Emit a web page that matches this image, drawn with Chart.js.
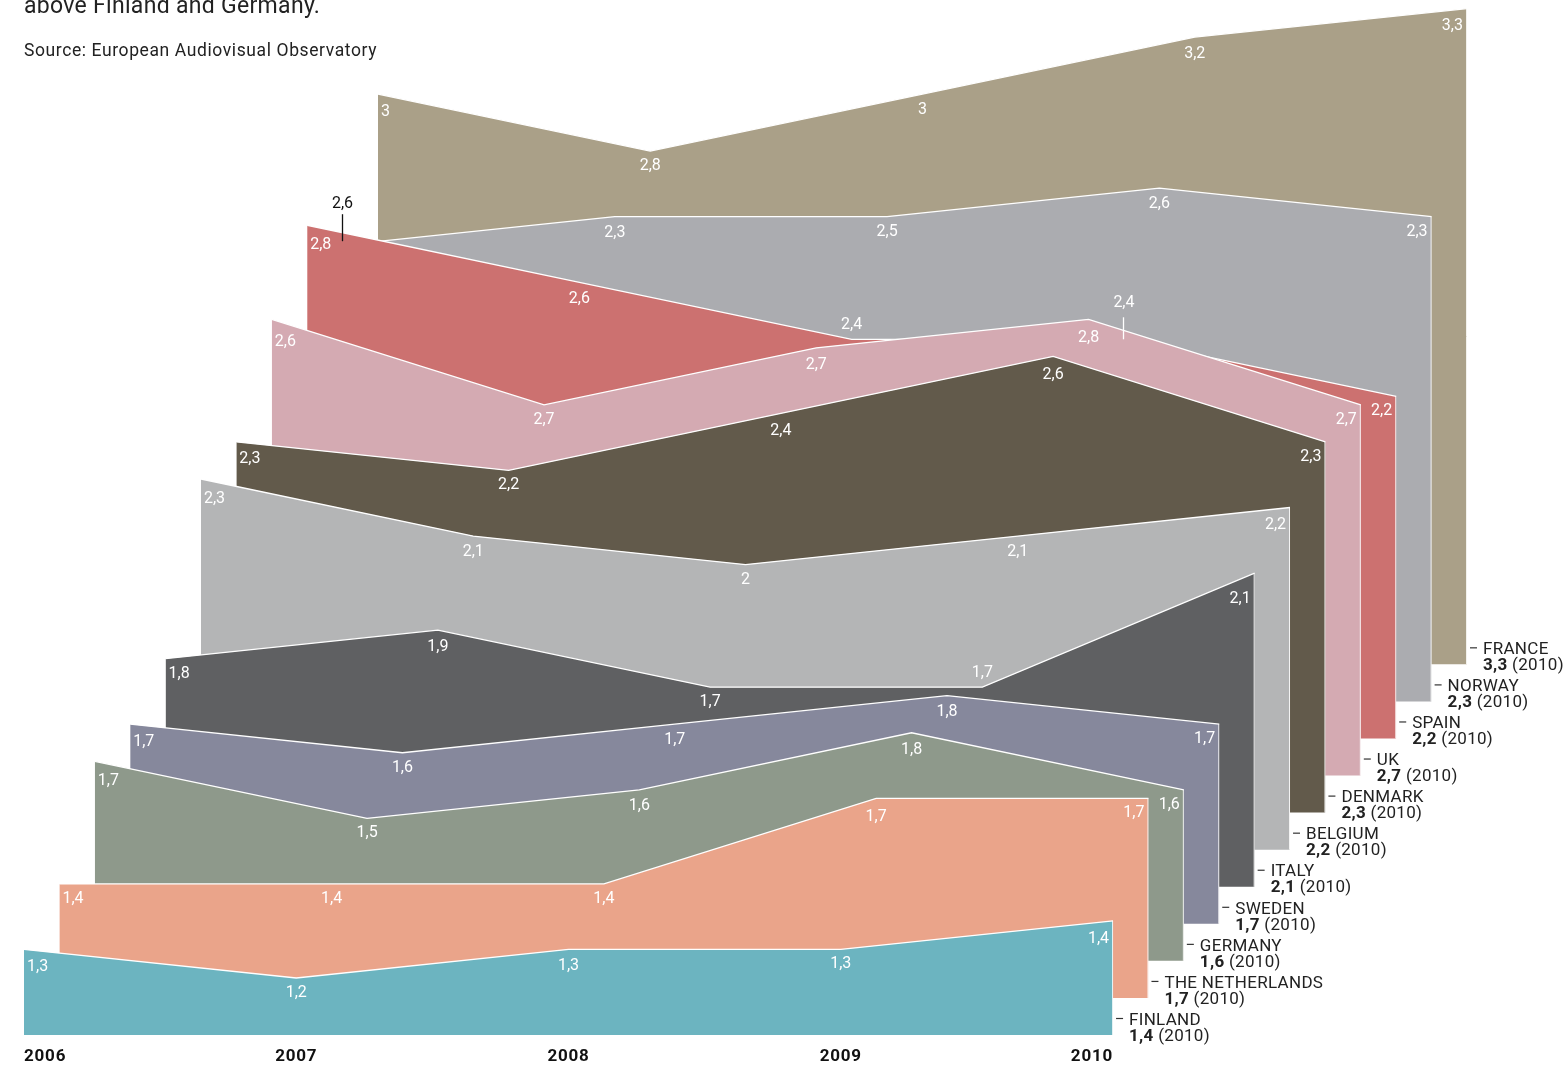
<!DOCTYPE html>
<html>
<head>
<meta charset="utf-8">
<script src="https://cdn.jsdelivr.net/npm/chart.js@4.4.1/dist/chart.umd.min.js"></script>
<style>
  html, body { margin: 0; padding: 0; background: #fff; overflow: hidden; }
  #wrap { position: relative; width: 1567px; height: 1065px; }
  #c { position: absolute; left: 0; top: 0; }
  .intro { position: absolute; left: 24px; top: -8px; font: 23px Roboto, sans-serif; letter-spacing: 0.3px; color: #222; white-space: nowrap; line-height: 27px; }
  .source { position: absolute; left: 24px; top: 40px; font: 17.5px Roboto, sans-serif; letter-spacing: 0.6px; color: #222; white-space: nowrap; line-height: 21px; }
</style>
</head>
<body>
<div id="wrap">
  <canvas id="c" width="1567" height="1065"></canvas>
  <div class="intro">above Finland and Germany.</div>
  <div class="source">Source: European Audiovisual Observatory</div>
</div>
<script>
const years = ['2006', '2007', '2008', '2009', '2010'];
const countries = ['FINLAND', 'THE NETHERLANDS', 'GERMANY', 'SWEDEN', 'ITALY', 'BELGIUM', 'DENMARK', 'UK', 'SPAIN', 'NORWAY', 'FRANCE'];

const finland     = [1.3, 1.2, 1.3, 1.3, 1.4];
const netherlands = [1.4, 1.4, 1.4, 1.7, 1.7];
const germany     = [1.7, 1.5, 1.6, 1.8, 1.6];
const sweden      = [1.7, 1.6, 1.7, 1.8, 1.7];
const italy       = [1.8, 1.9, 1.7, 1.7, 2.1];
const belgium     = [2.3, 2.1, 2.0, 2.1, 2.2];
const denmark     = [2.3, 2.2, 2.4, 2.6, 2.3];
const uk          = [2.6, 2.7, 2.7, 2.8, 2.7];
const spain       = [2.8, 2.6, 2.4, 2.4, 2.2];
const norway      = [2.6, 2.3, 2.5, 2.6, 2.3];
const france      = [3, 2.8, 3, 3.2, 3.3];

const colors = ['#6cb4c0', '#eaa48a', '#8e998b', '#86889c', '#5f6062', '#b4b5b6', '#625a4b', '#d4aab2', '#cc7170', '#abacb0', '#aaa088'];

// front (Finland) to back (France)
const values = [finland, netherlands, germany, sweden, italy, belgium, denmark, uk, spain, norway, france];
// the original graphic draws the UK band with Norway's figures and the other way round
const shapes = values.slice();
shapes[7] = norway;
shapes[9] = uk;

const BASE = 1;        // value at the floor of each band
const SHIFT_X = 0.13;  // per layer, in years
const SHIFT_Y = 0.13;  // per layer, in value units

const fmt = v => String(v).replace('.', ',');

// labels that sit above their point instead of below
const above = { '8-2': true, '4-3': true };
// hidden points get a label with a small pointer line
const callouts = [
  { layer: 8, k: 3, color: '#fff', lift: 36, from: 22, to: 0 },
  { layer: 9, k: 0, color: '#111', lift: 41, from: 31, to: 4 }
];
const isCallout = (i, k) => callouts.some(c => c.layer === i && c.k === k);

const datasets = values.map((vals, i) => ({
  label: countries[i],
  data: shapes[i].map((v, k) => ({ x: k + i * SHIFT_X, y: v - BASE + i * SHIFT_Y })),
  fill: { value: i * SHIFT_Y },
  backgroundColor: colors[i],
  borderColor: '#ffffff',
  borderWidth: 1.3,
  pointRadius: 0,
  tension: 0,
  clip: false
}));

// y of the band's top edge at pixel x
function edgeAt(pts, x) {
  if (x <= pts[0].x) return pts[0].y;
  for (let j = 1; j < pts.length; j++) {
    if (x <= pts[j].x) {
      const a = pts[j - 1], b = pts[j];
      return a.y + (b.y - a.y) * (x - a.x) / (b.x - a.x);
    }
  }
  return pts[pts.length - 1].y;
}

const pointLabels = {
  id: 'pointLabels',
  afterDatasetDraw(chart, args) {
    const i = args.index, pts = args.meta.data, ctx = chart.ctx;
    ctx.save();
    // thin white right edge of the band
    const last = pts[pts.length - 1];
    const floor = chart.scales.y.getPixelForValue(i * SHIFT_Y);
    ctx.strokeStyle = 'rgba(255,255,255,0.85)';
    ctx.lineWidth = 1;
    ctx.beginPath();
    ctx.moveTo(last.x - 0.5, last.y);
    ctx.lineTo(last.x - 0.5, floor);
    ctx.stroke();

    ctx.font = '16px Roboto, sans-serif';
    ctx.fillStyle = '#fff';
    ctx.textBaseline = 'middle';
    pts.forEach((p, k) => {
      if (isCallout(i, k)) return;
      const text = fmt(values[i][k]);
      const w = ctx.measureText(text).width;
      let x1;
      if (k === 0) { ctx.textAlign = 'left'; x1 = p.x + 3; }
      else if (k === pts.length - 1) { ctx.textAlign = 'right'; x1 = p.x - 4 - w; }
      else { ctx.textAlign = 'center'; x1 = p.x - w / 2; }
      const x2 = x1 + w;
      const e1 = edgeAt(pts, x1), e2 = edgeAt(pts, x2);
      let y;
      if (above[i + '-' + k]) y = p.y - 14;
      else y = Math.max(e1, e2, p.y) + 15;
      const tx = k === 0 ? x1 : (k === pts.length - 1 ? x2 : p.x);
      ctx.fillText(text, tx, y);
    });
    ctx.restore();
  },
  afterDatasetsDraw(chart) {
    const ctx = chart.ctx, xs = chart.scales.x, ys = chart.scales.y;
    ctx.save();
    // callouts
    ctx.font = '16px Roboto, sans-serif';
    ctx.textAlign = 'center';
    ctx.textBaseline = 'middle';
    callouts.forEach(c => {
      const p = chart.getDatasetMeta(c.layer).data[c.k];
      ctx.fillStyle = c.color;
      ctx.strokeStyle = c.color;
      ctx.lineWidth = 1.3;
      ctx.fillText(fmt(values[c.layer][c.k]), p.x, p.y - c.lift);
      ctx.beginPath();
      ctx.moveTo(Math.round(p.x) - 0.5, p.y - c.from);
      ctx.lineTo(Math.round(p.x) - 0.5, p.y - c.to);
      ctx.stroke();
    });
    // year labels along the front band
    ctx.font = 'bold 17px Roboto, sans-serif';
    ctx.letterSpacing = '0.8px';
    ctx.fillStyle = '#111';
    years.forEach((yr, k) => {
      ctx.textAlign = k === 0 ? 'left' : (k === years.length - 1 ? 'right' : 'center');
      ctx.fillText(yr, xs.getPixelForValue(k), 1057);
    });
    // country labels at the right end of each band
    ctx.letterSpacing = '0.3px';
    values.forEach((vals, i) => {
      const x = xs.getPixelForValue(years.length - 1 + i * SHIFT_X);
      const y = ys.getPixelForValue(i * SHIFT_Y);
      ctx.strokeStyle = '#333';
      ctx.lineWidth = 1.2;
      ctx.beginPath();
      ctx.moveTo(x + 3, y - 16.5);
      ctx.lineTo(x + 10, y - 16.5);
      ctx.stroke();
      ctx.fillStyle = '#222';
      ctx.textAlign = 'left';
      ctx.font = '17px Roboto, sans-serif';
      ctx.fillText(countries[i], x + 16, y - 14.5);
      const v = fmt(vals[vals.length - 1]);
      ctx.font = 'bold 17px Roboto, sans-serif';
      ctx.fillText(v, x + 16, y + 1.5);
      const w = ctx.measureText(v).width;
      ctx.font = '17px Roboto, sans-serif';
      ctx.fillText(' (' + years[years.length - 1] + ')', x + 16 + w, y + 1.5);
    });
    ctx.restore();
  }
};

new Chart(document.getElementById('c').getContext('2d'), {
  type: 'line',
  data: { datasets },
  options: {
    responsive: false,
    animation: false,
    events: [],
    devicePixelRatio: 1,
    layout: { padding: { left: 24, right: 100, top: 0, bottom: 30 } },
    scales: {
      x: { type: 'linear', min: 0, max: 5.3, display: false },
      y: { type: 'linear', min: 0, max: 3.63, display: false }
    },
    plugins: { legend: { display: false }, tooltip: { enabled: false } }
  },
  plugins: [pointLabels]
});
</script>
</body>
</html>
